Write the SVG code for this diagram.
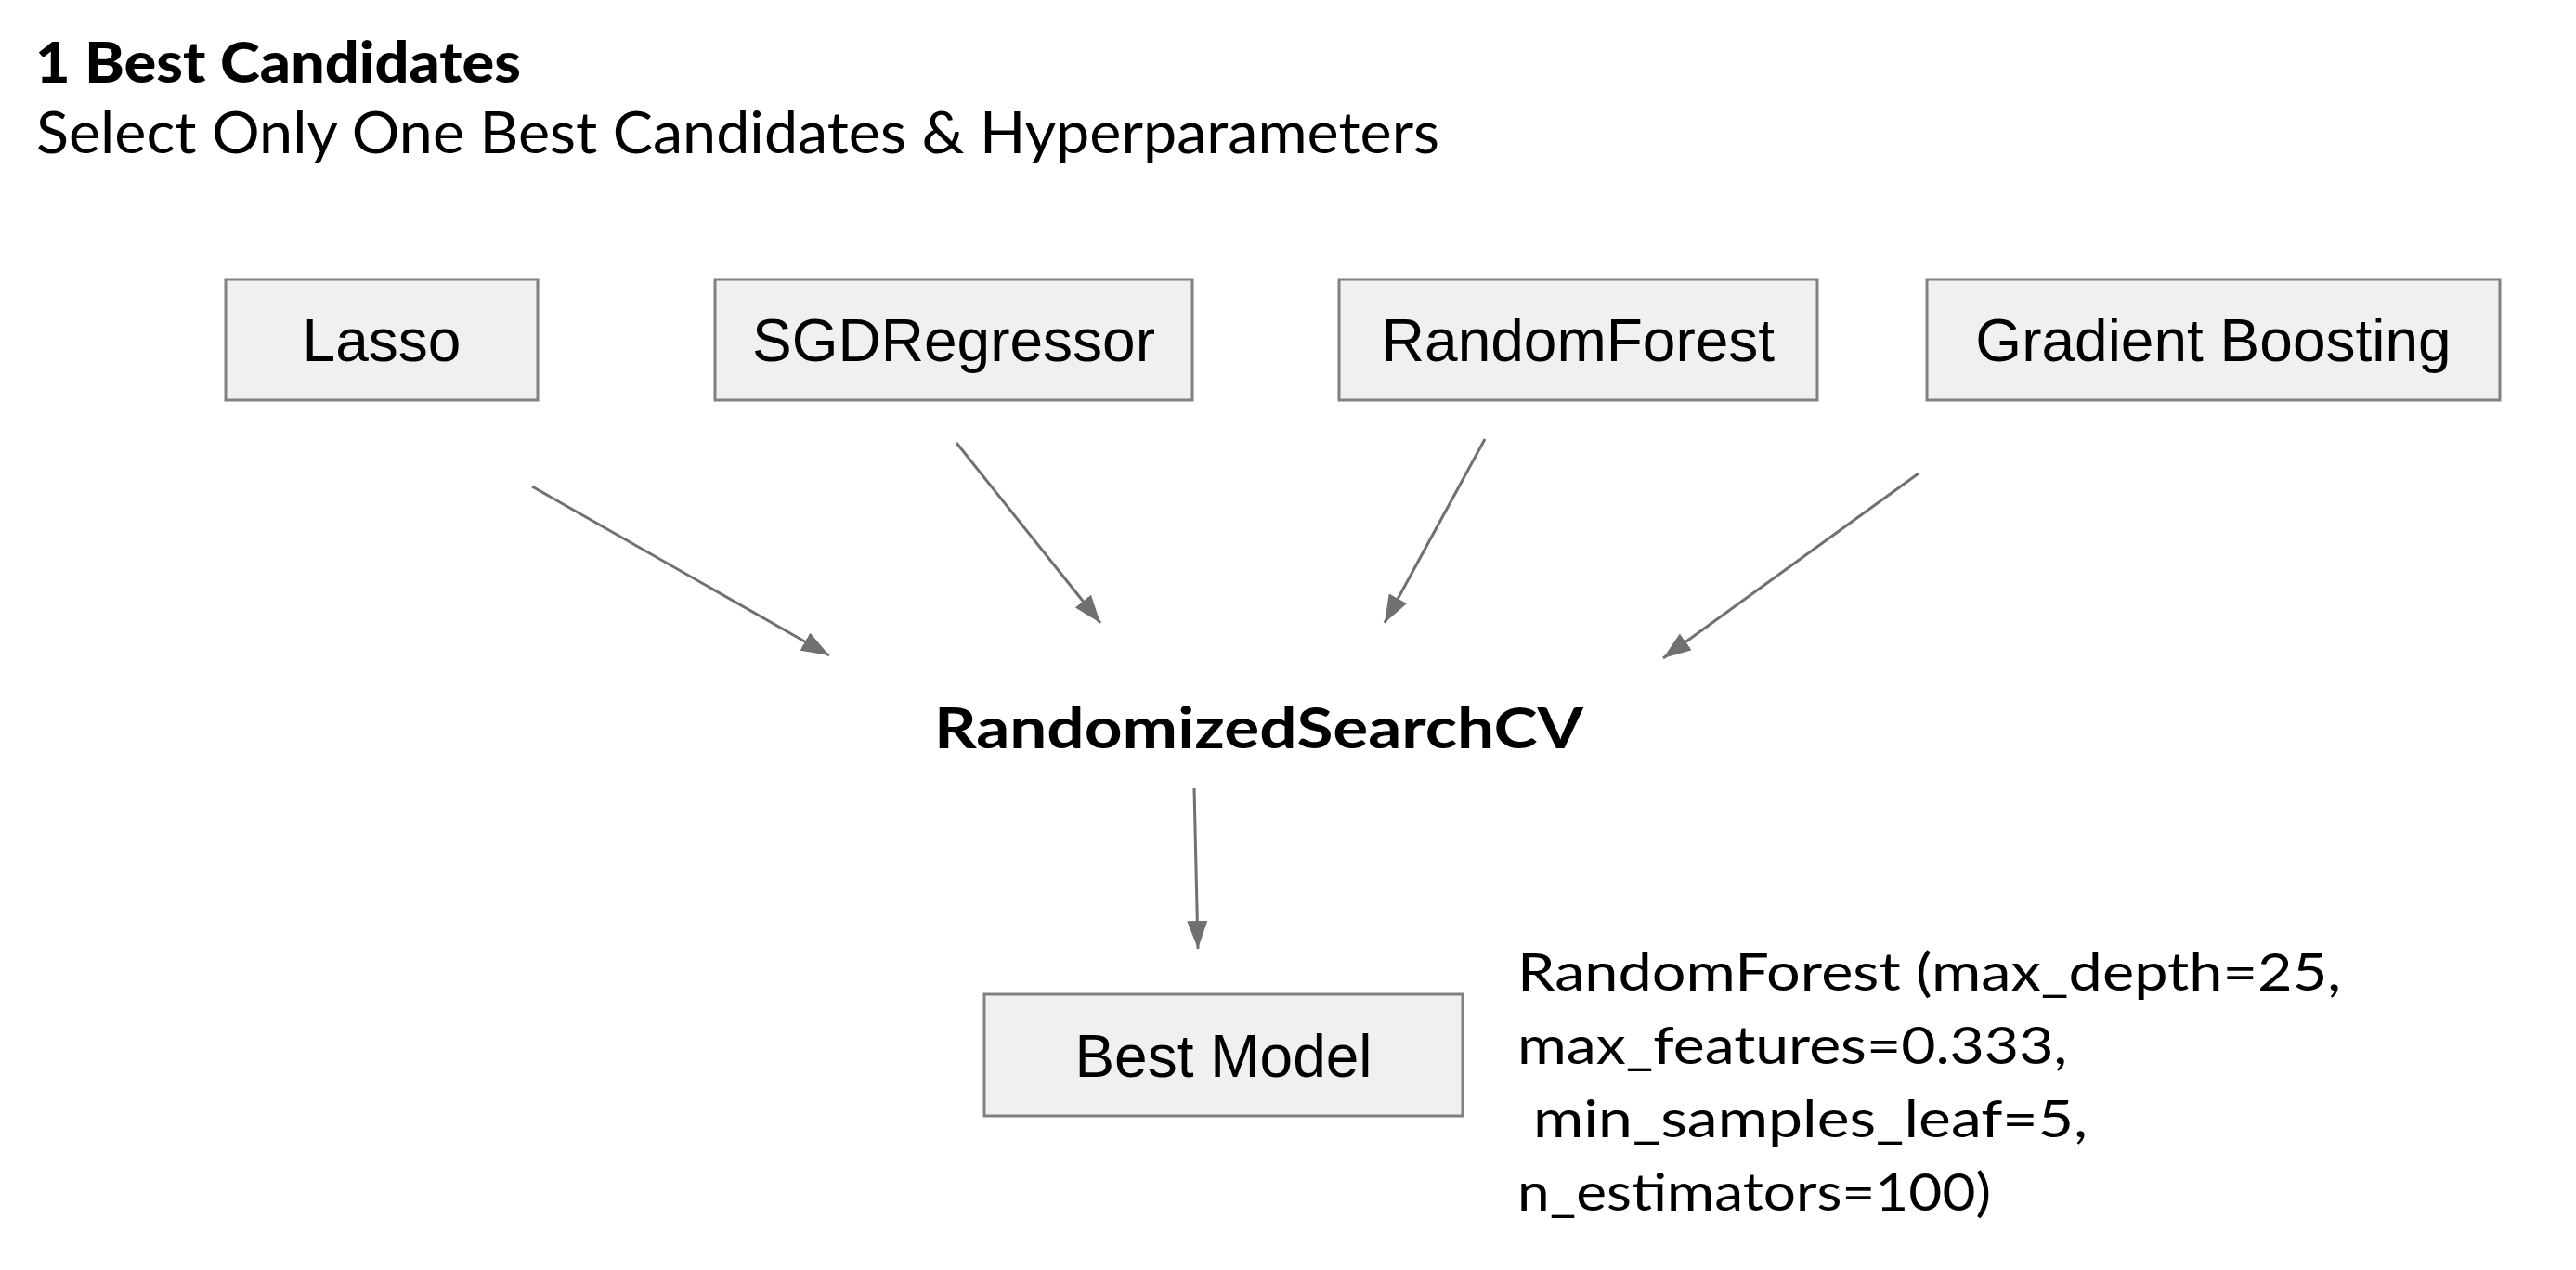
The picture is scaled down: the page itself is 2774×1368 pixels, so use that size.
<svg xmlns="http://www.w3.org/2000/svg" width="2774" height="1368" viewBox="0 0 2774 1368">
<style>
  .box { fill: #f0f0f0; stroke: #808080; stroke-width: 3; }
  .boxtext { font-family: "Liberation Sans", Arial, sans-serif; font-size: 64px; fill: #000; text-anchor: middle; }
  .head { font-family: Lato, "Open Sans", sans-serif; fill: #000; }
  .conn { stroke: #707070; stroke-width: 3; fill: none; marker-end: url(#arrow); }
</style>
<defs>
  <marker id="arrow" markerUnits="userSpaceOnUse" markerWidth="32" markerHeight="22" refX="30" refY="11" orient="auto">
    <path d="M0,0 L30,11 L0,22 Z" fill="#707070"/>
  </marker>
</defs>
<rect width="2774" height="1368" fill="#ffffff"/>
<g id="title">
  <text class="head" x="38" y="89" font-size="60" font-weight="900" textLength="523" lengthAdjust="spacingAndGlyphs">1 Best Candidates</text>
  <text class="head" x="39" y="165" font-size="62" textLength="1511" lengthAdjust="spacingAndGlyphs">Select Only One Best Candidates &amp; Hyperparameters</text>
</g>
<g id="node-lasso">
  <rect class="box" x="243" y="301" width="336" height="130"/>
  <text class="boxtext" x="411" y="389">Lasso</text>
</g>
<g id="node-sgd">
  <rect class="box" x="770" y="301" width="514" height="130"/>
  <text class="boxtext" x="1027" y="389">SGDRegressor</text>
</g>
<g id="node-rf">
  <rect class="box" x="1442" y="301" width="515" height="130"/>
  <text class="boxtext" x="1699.5" y="389">RandomForest</text>
</g>
<g id="node-gb">
  <rect class="box" x="2075" y="301" width="617" height="130"/>
  <text class="boxtext" x="2383.5" y="389">Gradient Boosting</text>
</g>
<g id="node-rscv">
  <text class="head" x="1006" y="806" font-size="62" font-weight="700" textLength="699" lengthAdjust="spacingAndGlyphs">RandomizedSearchCV</text>
</g>
<g id="node-best">
  <rect class="box" x="1060" y="1071" width="515" height="131"/>
  <text class="boxtext" x="1317.5" y="1160">Best Model</text>
</g>
<g id="params">
  <text class="head" x="1634" y="1067" font-size="56" textLength="887" lengthAdjust="spacingAndGlyphs">RandomForest (max_depth=25,</text>
  <text class="head" x="1634" y="1146" font-size="56" textLength="592" lengthAdjust="spacingAndGlyphs">max_features=0.333,</text>
  <text class="head" x="1634" y="1225" font-size="56" textLength="614" lengthAdjust="spacingAndGlyphs" xml:space="preserve"> min_samples_leaf=5,</text>
  <text class="head" x="1634" y="1304" font-size="56" textLength="510" lengthAdjust="spacingAndGlyphs">n_estimators=100)</text>
</g>
<g id="connectors">
  <line class="conn" x1="573" y1="524" x2="893" y2="706"/>
  <line class="conn" x1="1030" y1="477" x2="1185" y2="671"/>
  <line class="conn" x1="1599" y1="473" x2="1491" y2="671"/>
  <line class="conn" x1="2066" y1="510" x2="1791" y2="709"/>
  <line class="conn" x1="1286" y1="849" x2="1290" y2="1022"/>
</g>
</svg>
